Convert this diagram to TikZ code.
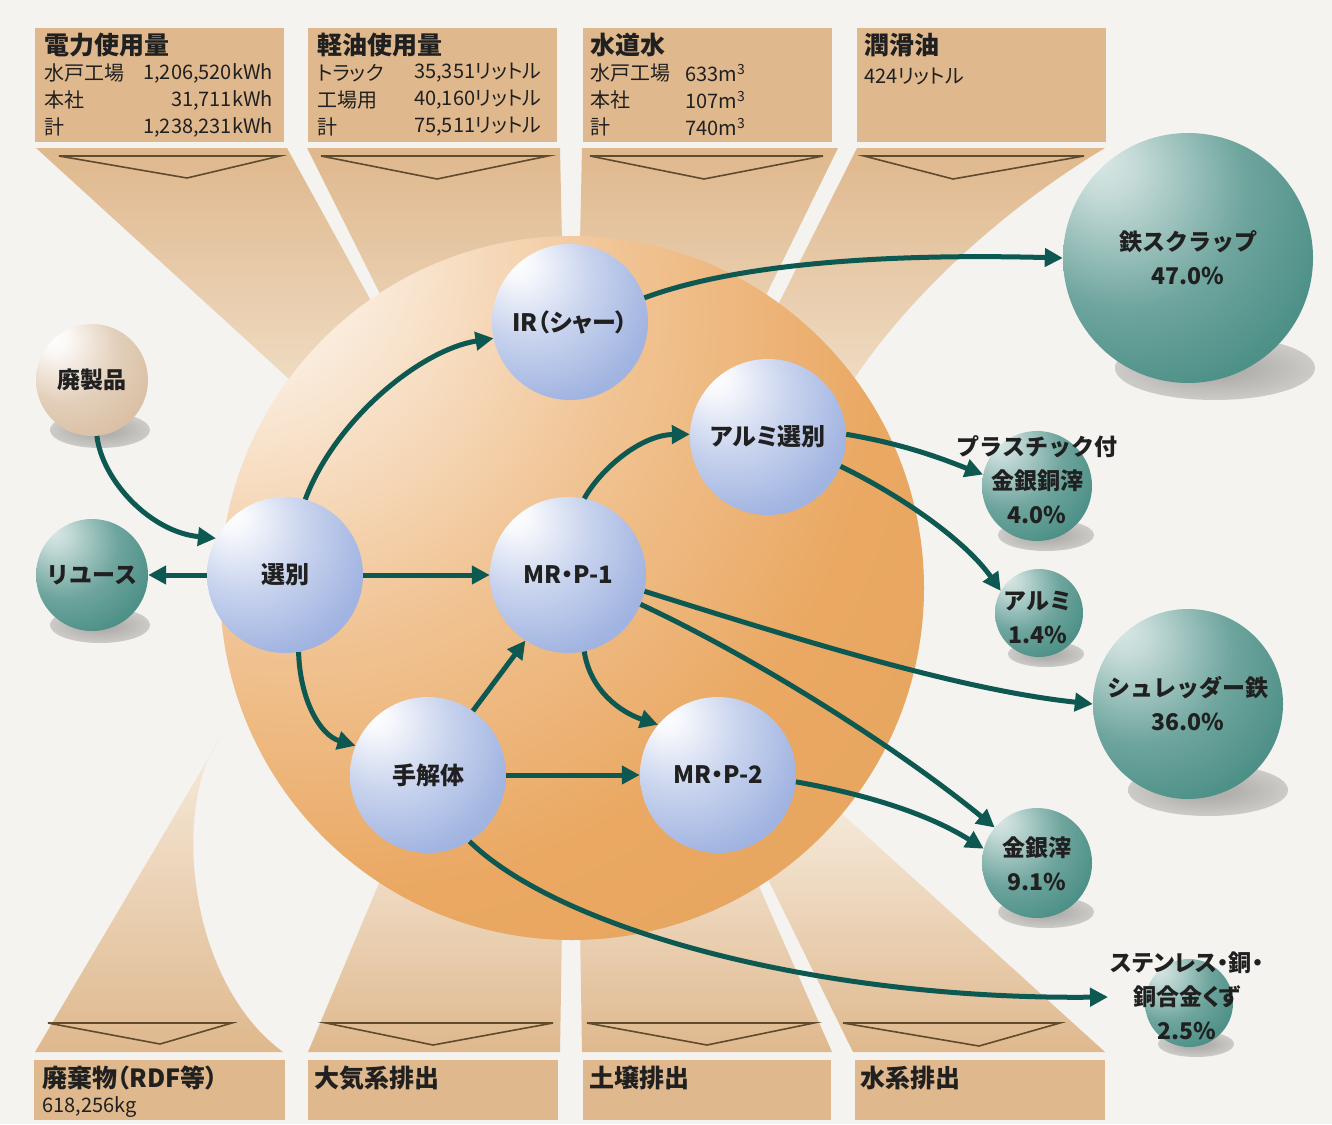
\documentclass[tikz,border=0pt]{standalone}
\usepackage{fontspec}
\setmainfont{Noto Sans CJK JP}
\newfontfamily\pfont{Noto Sans CJK JP}[RawFeature=+palt]
\usetikzlibrary{arrows.meta}
\definecolor{bgc}{RGB}{244,243,240}
\definecolor{tanc}{RGB}{223,184,141}
\definecolor{tanl}{RGB}{242,226,205}
\definecolor{arrc}{RGB}{14,88,82}
\definecolor{tric}{RGB}{95,75,45}
\definecolor{txt}{RGB}{32,32,32}
\definecolor{sphB}{RGB}{146,168,220}
\definecolor{sphT}{RGB}{62,135,125}
\definecolor{sphE}{RGB}{214,186,156}
\definecolor{sphO}{RGB}{234,168,98}
\definecolor{shc}{RGB}{178,176,173}

\pgfdeclareradialshading{bluesph}{\pgfqpoint{-18bp}{20bp}}{%
 color(0bp)=(white); color(5bp)=(white!92!sphB); color(20bp)=(sphB!50!white);
 color(36bp)=(sphB!85!white); color(56bp)=(sphB); color(70bp)=(sphB!80!black); color(78bp)=(sphB!60!black)}
\pgfdeclareradialshading{tealsph}{\pgfqpoint{-18bp}{20bp}}{%
 color(0bp)=(sphT!20!white); color(6bp)=(sphT!30!white); color(24bp)=(sphT!75!white);
 color(44bp)=(sphT); color(64bp)=(sphT!82!black); color(78bp)=(sphT!55!black)}
\pgfdeclareradialshading{beigesph}{\pgfqpoint{-18bp}{20bp}}{%
 color(0bp)=(white); color(6bp)=(white!90!sphE); color(24bp)=(sphE!70!white);
 color(44bp)=(sphE); color(64bp)=(sphE!85!black); color(78bp)=(sphE!65!black)}
\pgfdeclareradialshading{orgsph}{\pgfqpoint{-28bp}{28bp}}{%
 color(0bp)=(sphO!6!white); color(9bp)=(sphO!18!white); color(24bp)=(sphO!68!white);
 color(38bp)=(sphO); color(68bp)=(sphO!96!black); color(80bp)=(sphO!86!black); color(90bp)=(sphO!66!black)}
\pgfdeclareradialshading{shadw}{\pgfpointorigin}{%
 color(0bp)=(shc); color(8bp)=(shc); color(50bp)=(bgc)}

\tikzset{
  arr/.style={line width=5pt, draw=arrc, -{Triangle[length=18pt,width=18pt]}},
  hd/.style={anchor=west, inner sep=0pt, font=\pfont\fontsize{25}{30}\selectfont\bfseries, text=txt},
  dt/.style={anchor=west, inner sep=0pt, font=\pfont\fontsize{20}{24}\selectfont, text=txt},
  dte/.style={dt, anchor=east},
  sph/.style={circle, inner sep=0pt, shade},
  bsph/.style={sph, shading=bluesph, minimum size=156pt, font=\pfont\fontsize{24}{28}\selectfont\bfseries, text=txt},
  tsph/.style={sph, shading=tealsph},
  esph/.style={sph, shading=beigesph},
  lbl/.style={inner sep=0pt, align=center, font=\fontsize{23}{34}\selectfont\bfseries, text=txt},
  trist/.style={draw=tric, line width=1.6pt, line join=miter},
  tshape/.style={top color=tanc, bottom color=tanl},
  bshape/.style={top color=tanl!70!white, bottom color=tanc},
}

\begin{document}
\begin{tikzpicture}[x=1pt,y=-1pt]
\useasboundingbox (0,0) rectangle (1332,1124);
\fill[bgc] (0,0) rectangle (1332,1124);

% funnel shapes, top
\shade[tshape] (36,148) -- (287,148) -- (442,430) -- (345,430) -- cycle;
\shade[tshape] (307,148) -- (560,148) -- (566,430) -- (448,430) -- cycle;
\shade[tshape] (582,148) -- (838,148) -- (700,430) -- (576,430) -- cycle;
\shade[tshape] (857,148) -- (1105,148) .. controls (1010,205) and (920,285) .. (860,370) -- (820,430) -- (715,430) -- cycle;
% funnel shapes, bottom
\shade[bshape] (35,1052) -- (221,737) .. controls (172,800) and (185,980) .. (283,1052) -- cycle;
\shade[bshape] (308,1052) -- (560,1052) -- (564,800) -- (414,800) -- cycle;
\shade[bshape] (582,1052) -- (832,1052) -- (721,800) -- (578,800) -- cycle;
\shade[bshape] (853,1052) -- (1105,1052) -- (827,800) -- (729,800) -- cycle;

% boxes
\fill[tanc] (35,28) rectangle (284,142);
\fill[tanc] (308,28) rectangle (557,142);
\fill[tanc] (583,28) rectangle (832,142);
\fill[tanc] (857,28) rectangle (1106,142);
\fill[tanc] (34,1060) rectangle (285,1120);
\fill[tanc] (308,1060) rectangle (558,1120);
\fill[tanc] (583,1060) rectangle (831,1120);
\fill[tanc] (855,1060) rectangle (1105,1120);

% triangles
\draw[trist] (59,156) -- (280,156) -- (187,178) -- cycle;
\draw[trist] (321,156) -- (548,156) -- (437,179) -- cycle;
\draw[trist] (590,156) -- (823,156) -- (704,179) -- cycle;
\draw[trist] (864,156) -- (1084,156) -- (953,179) -- cycle;
\draw[trist] (48,1023) -- (232,1023) -- (160,1044) -- cycle;
\draw[trist] (326,1023) -- (553,1023) -- (433,1045) -- cycle;
\draw[trist] (587,1023) -- (814,1023) -- (707,1045) -- cycle;
\draw[trist] (843,1023) -- (1060,1023) -- (979,1046) -- cycle;

% big sphere
\shade[shading=orgsph] (572,588) circle (352pt);

% box texts
\node[hd] (h1) at (44,45) {電力使用量};
\node[dt] (a1) at (44,73) {水戸工場};
\node[dte] (a2) at (273,73) {1,206,520kWh};
\node[dt] (a3) at (44,100) {本社};
\node[dte] (a4) at (273,100) {31,711kWh};
\node[dt] (a5) at (44,127) {計};
\node[dte] (a6) at (273,127) {1,238,231kWh};

\node[hd] (h2) at (317,45) {軽油使用量};
\node[dt] (b1) at (317,73) {トラック};
\node[dt] (b2) at (414,73) {35,351リットル};
\node[dt] (b3) at (317,100) {工場用};
\node[dt] (b4) at (414,100) {40,160リットル};
\node[dt] (b5) at (317,127) {計};
\node[dt] (b6) at (414,127) {75,511リットル};

\node[hd] (h3) at (590,45) {水道水};
\node[dt] (c1) at (590,73) {水戸工場};
\node[dt] (c2) at (685,73) {633m\textsuperscript{3}};
\node[dt] (c3) at (590,100) {本社};
\node[dt] (c4) at (685,100) {107m\textsuperscript{3}};
\node[dt] (c5) at (590,127) {計};
\node[dt] (c6) at (685,127) {740m\textsuperscript{3}};

\node[hd] (h4) at (864,45) {潤滑油};
\node[dt] (d1) at (864,77) {424リットル};

\node[hd] (h5) at (42,1078) {廃棄物（RDF等）};
\node[dt] (e1) at (42,1107) {618,256kg};
\node[hd] (h6) at (314,1078) {大気系排出};
\node[hd] (h7) at (589,1078) {土壌排出};
\node[hd] (h8) at (860,1078) {水系排出};

% shadows
\shade[shading=shadw] (100,430) ellipse [x radius=50pt, y radius=18pt];
\shade[shading=shadw] (100,625) ellipse [x radius=50pt, y radius=18pt];
\shade[shading=shadw] (1215,368) ellipse [x radius=100pt, y radius=32pt];
\shade[shading=shadw] (1046,535) ellipse [x radius=48pt, y radius=16pt];
\shade[shading=shadw] (1046,654) ellipse [x radius=38pt, y radius=13pt];
\shade[shading=shadw] (1208,790) ellipse [x radius=80pt, y radius=26pt];
\shade[shading=shadw] (1046,912) ellipse [x radius=48pt, y radius=16pt];
\shade[shading=shadw] (1196,1044) ellipse [x radius=38pt, y radius=13pt];

% spheres
\node[esph, minimum size=112pt] (hai) at (92,380) {};
\node[tsph, minimum size=112pt] (reuse) at (92,575) {};
\node[bsph] (sel) at (285,575) {選別};
\node[bsph] (ir) at (570,322) {IR（シャー）};
\node[bsph] (arusen) at (768,437) {アルミ選別};
\node[bsph] (mrp1) at (568,575) {MR・P-1};
\node[bsph] (tekai) at (428,775) {手解体};
\node[bsph] (mrp2) at (718,775) {MR・P-2};
\node[tsph, minimum size=250pt] (tetsu) at (1188,258) {};
\node[tsph, minimum size=110pt] (kingin4) at (1037,486) {};
\node[tsph, minimum size=88pt] (arumi) at (1039,613) {};
\node[tsph, minimum size=190pt] (shred) at (1188,704) {};
\node[tsph, minimum size=110pt] (kingin9) at (1037,863) {};
\node[tsph, minimum size=88pt] (sten) at (1189,1003) {};
\coordinate (stenin) at (1108,997);

% connectors
\draw[arr] (hai.-85) .. controls (102,480) and (150,532) .. (sel.152);
\draw[arr] (sel.west) -- (reuse.east);
\draw[arr] (sel.75) .. controls (335,420) and (420,350) .. (ir.192);
\draw[arr] (sel.east) -- (mrp1.west);
\draw[arr] (sel.-80) .. controls (300,700) and (320,735) .. (tekai.158);
\draw[arr] (tekai.55) -- (mrp1.237);
\draw[arr] (tekai.east) -- (mrp2.west);
\draw[arr] (mrp1.78) .. controls (600,470) and (640,435) .. (arusen.178);
\draw[arr] (mrp1.-78) .. controls (590,690) and (620,712) .. (mrp2.140);
\draw[arr] (ir.18) .. controls (760,255) and (950,255) .. (tetsu.west);
\draw[arr] (arusen.2) .. controls (910,445) and (950,462) .. (kingin4.168);
\draw[arr] (arusen.-22) .. controls (900,495) and (965,540) .. (arumi.150);
\draw[arr] (mrp1.-12) .. controls (800,640) and (960,690) .. (shred.west);
\draw[arr] (mrp1.-22) .. controls (760,660) and (900,750) .. (kingin9.140);
\draw[arr] (mrp2.-5) .. controls (870,795) and (930,815) .. (kingin9.165);
\draw[arr] (tekai.-58) .. controls (560,930) and (820,1000) .. (stenin);

% satellite labels
\node[lbl] (haiL) at (92,380) {廃製品};
\node[lbl] (reuseL) at (92,575) {リユース};
\node[lbl] (tetsuL) at (1188,258) {鉄スクラップ\\47.0\%};
\node[lbl] (k4L) at (1037,480) {プラスチック付\\金銀銅滓\\4.0\%};
\node[lbl] (arumiL) at (1038,617) {アルミ\\1.4\%};
\node[lbl] (shredL) at (1188,704) {シュレッダー鉄\\36.0\%};
\node[lbl] (k9L) at (1037,864) {金銀滓\\9.1\%};
\node[lbl, font=\pfont\fontsize{23}{34}\selectfont\bfseries] (stenL) at (1187,996) {ステンレス・銅・\\銅合金くず\\2.5\%};
\end{tikzpicture}
\end{document}
